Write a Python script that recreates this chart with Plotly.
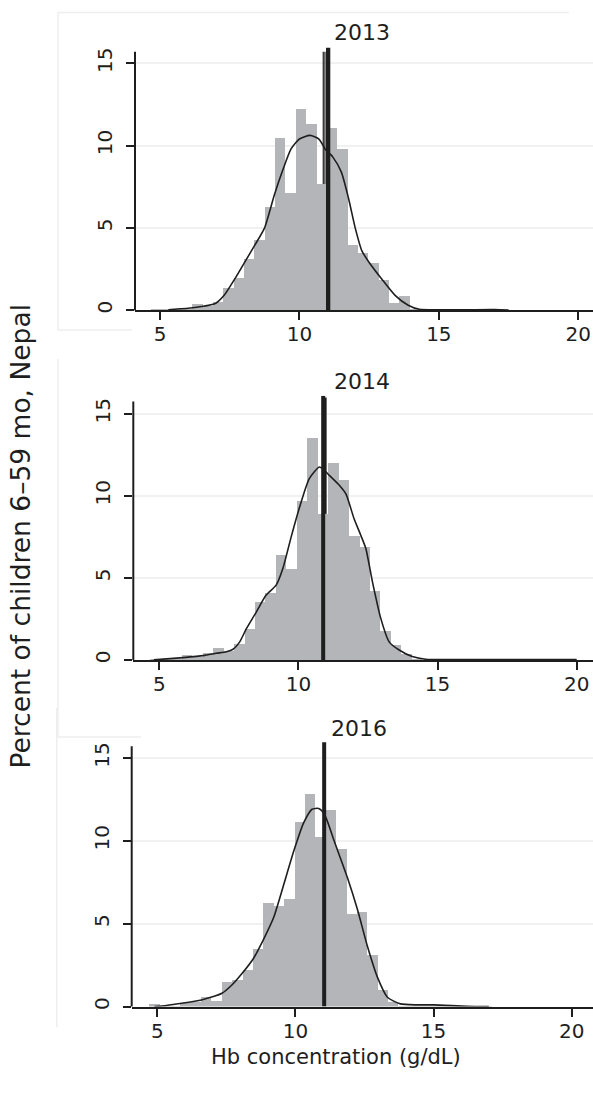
import plotly.graph_objects as go

# ---------------- DATA ----------------
years = ["2013", "2014", "2016"]

# histogram bins: first left edge, bin width, percent per bin
bin_start_2013 = 4.667
bin_width_2013 = 0.3717
pct_2013 = [0.05, 0.05, 0.03, 0.03, 0.38, 0.25, 0.5, 1.33, 1.94, 3.1, 4.26, 6.24,
            10.42, 7.13, 12.2, 11.31, 7.66, 11.07, 9.78, 3.96, 3.45, 2.83, 1.8,
            0.42, 0.83, 0.05, 0.02, 0.0, 0.0, 0.0, 0.02, 0.02, 0.03, 0.05]

bin_start_2014 = 4.692
bin_width_2014 = 0.3757
pct_2014 = [0.03, 0.03, 0.05, 0.3, 0.2, 0.45, 0.75, 0.55, 1.0, 1.9, 3.57, 4.07,
            6.39, 5.58, 9.7, 13.55, 8.9, 12.02, 11.0, 7.54, 6.9, 4.2, 1.8, 0.95,
            0.4, 0.05]

bin_start_2016 = 4.694
bin_width_2016 = 0.376
pct_2016 = [0.15, 0.03, 0.03, 0.25, 0.3, 0.62, 0.35, 1.48, 1.62, 2.2, 3.5, 6.25,
            6.1, 6.5, 11.15, 12.85, 10.25, 11.85, 9.5, 5.6, 5.7, 3.1, 1.0, 0.3,
            0.05, 0.03, 0.03, 0.05, 0.05, 0.05, 0.05, 0.05, 0.05]

# kernel density curves (Hb g/dL, percent)
kde_x_2013 = [5.3, 5.5, 6.0, 6.5, 7.0, 7.3, 7.7, 8.05, 8.4, 8.75, 9.1, 9.4, 9.7,
              10.0, 10.38, 10.7, 10.92, 11.2, 11.5, 11.76, 12.0, 12.24, 12.5,
              12.95, 13.43, 13.9, 14.3, 15.0, 16.0, 17.0, 17.5]
kde_y_2013 = [0.02, 0.05, 0.12, 0.22, 0.42, 0.9, 1.95, 2.95, 3.95, 5.0, 7.0, 8.5,
              9.8, 10.4, 10.62, 10.4, 9.8, 9.3, 8.4, 6.8, 5.0, 3.6, 2.9, 1.9, 0.9,
              0.3, 0.05, 0.02, 0.02, 0.03, 0.0]

kde_x_2014 = [4.8, 5.86, 6.58, 7.05, 7.41, 7.65, 7.89, 8.13, 8.48, 8.84, 9.2, 9.44,
              9.74, 10.04, 10.39, 10.75, 10.87, 11.11, 11.47, 11.71, 12.0, 12.24,
              12.42, 12.66, 12.96, 13.26, 13.62, 14.09, 14.57, 16.0, 18.0, 20.0]
kde_y_2014 = [0.0, 0.14, 0.26, 0.4, 0.5, 0.65, 1.1, 1.9, 2.9, 3.95, 4.56, 5.57,
              7.5, 9.3, 11.05, 11.76, 11.66, 11.25, 10.64, 10.1, 8.6, 7.6, 6.8,
              4.76, 2.53, 1.1, 0.6, 0.2, 0.04, 0.02, 0.02, 0.02]

kde_x_2016 = [4.9, 5.16, 5.88, 6.6, 7.03, 7.34, 7.7, 8.05, 8.48, 8.85, 9.21, 9.58,
              9.94, 10.3, 10.6, 10.84, 11.05, 11.4, 11.88, 12.24, 12.6, 12.97,
              13.33, 13.8, 14.4, 15.0, 16.2, 17.0]
kde_y_2016 = [0.0, 0.03, 0.2, 0.4, 0.6, 0.8, 1.3, 1.96, 2.9, 4.07, 5.37, 7.38,
              9.38, 11.09, 11.9, 11.95, 11.6, 10.0, 7.78, 5.88, 3.67, 1.76, 0.56,
              0.16, 0.1, 0.1, 0.02, 0.0]

# anemia cut-off reference lines (x position, y bottom, y top)
cutoff_2013 = [(11.03, 0.0, 15.95)]
cutoff_2013_thin = [(10.855, 7.66, 15.7), (10.915, 7.66, 15.7)]
cutoff_2014 = [(10.89, 0.0, 16.1)]
cutoff_2014_upper = [(10.96, 8.9, 16.0)]
cutoff_2016 = [(11.04, 0.0, 15.95)]

x_ticks = [5, 10, 15, 20]
y_ticks = [0, 5, 10, 15]
y_axis_top = [15.7, 15.75, 15.7]

x_title = "Hb concentration (g/dL)"
y_title = "Percent of children 6\u201359 mo, Nepal"

# ---------------- LAYOUT GEOMETRY ----------------
W, H = 593, 1096
FONT = "DejaVu Sans"
INK = "#1e1e1e"
BAR = "#b4b5b8"

panels = [
    dict(left=135.0, xr=[4.104, 20.527], bot=311.0, top=45.35),
    dict(left=133.3, xr=[4.066, 20.586], bot=661.7, top=396.85),
    dict(left=131.7, xr=[4.073, 20.771], bot=1009.3, top=741.7),
]
YMAX = 16.1

data_sets = [
    (bin_start_2013, bin_width_2013, pct_2013, kde_x_2013, kde_y_2013),
    (bin_start_2014, bin_width_2014, pct_2014, kde_x_2014, kde_y_2014),
    (bin_start_2016, bin_width_2016, pct_2016, kde_x_2016, kde_y_2016),
]

fig = go.Figure()
shapes = []
annotations = []

for k, (geo, ds) in enumerate(zip(panels, data_sets)):
    s = "" if k == 0 else str(k + 1)
    xa, ya = "x" + s, "y" + s
    start, width, pct, kx, ky = ds
    centers = [start + width * (i + 0.5) for i in range(len(pct))]
    fig.add_trace(go.Bar(x=centers, y=pct, width=[width] * len(pct),
                         marker=dict(color=BAR, line=dict(width=0)),
                         xaxis=xa, yaxis=ya, showlegend=False, hoverinfo="skip"))
    fig.add_trace(go.Scatter(x=kx, y=ky, mode="lines",
                             line=dict(color=INK, width=1.6, shape="spline", smoothing=0.6),
                             xaxis=xa, yaxis=ya, showlegend=False, hoverinfo="skip"))

    ydom = [1 - geo["bot"] / H, 1 - geo["top"] / H]
    xdom = [geo["left"] / W, 1.0]
    fig.layout["xaxis" + s] = dict(
        domain=xdom, range=geo["xr"], anchor=ya, tickmode="array", tickvals=x_ticks,
        ticks="outside", ticklen=8, tickwidth=1.5, tickcolor=INK, ticklabelstandoff=-3,
        showline=True, linecolor=INK, linewidth=2, showgrid=False, zeroline=False,
        tickfont=dict(family=FONT, size=20, color=INK), fixedrange=True)
    fig.layout["yaxis" + s] = dict(
        domain=ydom, range=[0, YMAX], anchor=xa, tickmode="array", tickvals=y_ticks,
        ticks="outside", ticklen=8, tickwidth=1.5, tickcolor=INK, tickangle=-90,
        ticklabelstandoff=6,
        showline=False, showgrid=True, gridcolor="#f1f1f1", gridwidth=2,
        zeroline=False, tickfont=dict(family=FONT, size=20, color=INK), fixedrange=True)

    ytop_paper = ydom[0] + (y_axis_top[k] / YMAX) * (ydom[1] - ydom[0])
    shapes.append(dict(type="line", xref="paper", yref="paper",
                       x0=xdom[0], x1=xdom[0], y0=ydom[0], y1=ytop_paper,
                       line=dict(color=INK, width=2)))

    annotations.append(dict(text=years[k], xref="paper", yref="paper",
                            x=[362, 362, 359][k] / W, y=1 - [33, 383, 730][k] / H,
                            xanchor="center", yanchor="middle", showarrow=False,
                            font=dict(family=FONT, size=22, color=INK)))

def vlines(lst, s, w):
    for (xv, y0, y1) in lst:
        shapes.append(dict(type="line", xref="x" + s, yref="y" + s,
                           x0=xv, x1=xv, y0=y0, y1=y1,
                           line=dict(color=INK, width=w)))

vlines(cutoff_2013, "", 4.3)
vlines(cutoff_2013_thin, "", 1.2)
vlines(cutoff_2014, "2", 4)
vlines(cutoff_2014_upper, "2", 3)
vlines(cutoff_2016, "3", 4)

FRAME = "#eeeeee"
def pline(x0, y0, x1, y1):
    shapes.append(dict(type="line", xref="paper", yref="paper",
                       x0=x0 / W, x1=x1 / W, y0=1 - y0 / H, y1=1 - y1 / H,
                       line=dict(color=FRAME, width=1.5), layer="below"))
pline(58, 12.5, 569, 12.5)
pline(58, 12.5, 58, 331)
pline(58, 331, 132, 331)
pline(58, 360, 58, 739)
pline(58, 739, 141, 739)
pline(56.7, 710, 56.7, 1030)

annotations.append(dict(text=x_title, xref="paper", yref="paper", x=336 / W,
                        y=1 - 1060 / H, xanchor="center", yanchor="middle",
                        showarrow=False, font=dict(family=FONT, size=21, color=INK)))
annotations.append(dict(text=y_title, xref="paper", yref="paper", x=21 / W,
                        y=1 - 538 / H, xanchor="center", yanchor="middle",
                        textangle=-90, showarrow=False,
                        font=dict(family=FONT, size=26.5, color=INK)))

fig.update_layout(width=W, height=H, margin=dict(l=0, r=0, t=0, b=0),
                  paper_bgcolor="white", plot_bgcolor="white",
                  barmode="overlay", bargap=0, showlegend=False,
                  shapes=shapes, annotations=annotations)

fig.write_html("out.html", config={"displayModeBar": False},
               post_script="document.body.style.margin='0';document.body.style.padding='0';")
